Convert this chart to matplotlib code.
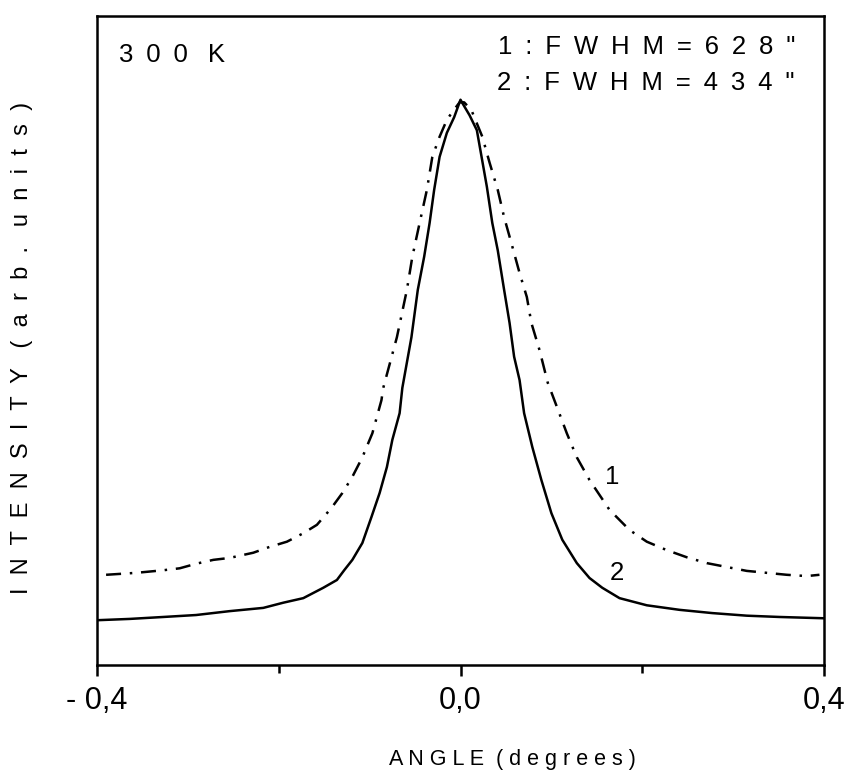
import matplotlib.pyplot as plt
from matplotlib.ticker import FixedLocator, FixedFormatter

# Kurve 1 (strichpunktiert), FWHM = 628"
angle1 = [-0.390, -0.357, -0.327, -0.309, -0.291, -0.272, -0.254, -0.228, -0.210, -0.191,
          -0.173, -0.158, -0.142, -0.130, -0.119, -0.108, -0.097, -0.087, -0.085, -0.070,
          -0.059, -0.053, -0.045, -0.037, -0.031, -0.023, -0.015, -0.009, -0.001, 0.004,
          0.012, 0.024, 0.032, 0.041, 0.048, 0.056, 0.065, 0.073, 0.078, 0.087,
          0.096, 0.106, 0.117, 0.128, 0.142, 0.164, 0.186, 0.205, 0.227, 0.249,
          0.271, 0.293, 0.315, 0.337, 0.359, 0.381, 0.395]
inten1 = [0.139, 0.142, 0.146, 0.149, 0.156, 0.162, 0.165, 0.173, 0.182, 0.190,
          0.203, 0.216, 0.242, 0.265, 0.290, 0.320, 0.357, 0.408, 0.427, 0.505,
          0.578, 0.629, 0.681, 0.732, 0.783, 0.814, 0.840, 0.852, 0.867, 0.867,
          0.855, 0.814, 0.774, 0.732, 0.690, 0.650, 0.604, 0.567, 0.527, 0.485,
          0.435, 0.398, 0.357, 0.320, 0.285, 0.239, 0.208, 0.190, 0.177, 0.166,
          0.157, 0.151, 0.145, 0.142, 0.139, 0.137, 0.139]

# Kurve 2 (durchgezogen), FWHM = 434"
angle2 = [-0.400, -0.364, -0.327, -0.291, -0.254, -0.217, -0.195, -0.173, -0.151, -0.136,
          -0.128, -0.119, -0.108, -0.098, -0.089, -0.081, -0.075, -0.067, -0.064, -0.054,
          -0.047, -0.040, -0.034, -0.029, -0.023, -0.015, -0.007, 0.000, 0.002, 0.010,
          0.018, 0.029, 0.035, 0.041, 0.048, 0.054, 0.059, 0.065, 0.070, 0.079,
          0.089, 0.100, 0.112, 0.128, 0.142, 0.156, 0.175, 0.205, 0.241, 0.277,
          0.315, 0.351, 0.400]
inten2 = [0.069, 0.071, 0.074, 0.077, 0.083, 0.088, 0.096, 0.103, 0.119, 0.131,
          0.146, 0.162, 0.188, 0.228, 0.265, 0.305, 0.347, 0.388, 0.427, 0.505,
          0.578, 0.629, 0.681, 0.732, 0.783, 0.820, 0.844, 0.871, 0.866, 0.847,
          0.824, 0.737, 0.681, 0.639, 0.578, 0.527, 0.475, 0.439, 0.388, 0.336,
          0.285, 0.234, 0.193, 0.157, 0.134, 0.119, 0.103, 0.092, 0.085, 0.080,
          0.076, 0.074, 0.072]

xticks = [-0.4, 0.0, 0.4]
xticklabels = ["- 0,4", "0,0", "0,4"]
xminor = [-0.2, 0.2]

fig = plt.figure(figsize=(8.47, 7.73), dpi=100)
ax = fig.add_axes([97/847, 108/773, 727/847, 649/773])

ax.plot(angle1, inten1, color="black", lw=1.8, linestyle=(0, (6, 3.5, 1, 3.5)))
ax.plot(angle2, inten2, color="black", lw=1.8)

ax.set_xlim(-0.4, 0.4)
ax.set_ylim(0, 1)

for s in ax.spines.values():
    s.set_linewidth(1.8)

ax.xaxis.set_major_locator(FixedLocator(xticks))
ax.xaxis.set_major_formatter(FixedFormatter(xticklabels))
ax.xaxis.set_minor_locator(FixedLocator(xminor))
ax.tick_params(axis="x", which="major", length=8, width=1.8, direction="out", pad=7,
               labelsize=22)
ax.tick_params(axis="x", which="minor", length=6, width=1.8, direction="out")
ax.set_yticks([])
for lab in ax.get_xticklabels():
    lab.set_family(["Liberation Sans Narrow", "Liberation Sans"])

fam = ["Liberation Sans", "DejaVu Sans"]
txt = dict(family=fam, fontsize=18.5, color="black")
sp = "\u2002"

ax.set_xlabel("A N G L E  ( d e g r e e s )", va="center", family=fam, fontsize=15.5)
ax.xaxis.set_label_coords(0.572, -0.146)
ax.set_ylabel("I  N  T  E  N  S  I  T  Y   (  a  r  b  .   u  n  i  t  s  )",
              va="center", family=fam, fontsize=17)
ax.yaxis.set_label_coords(-0.103, 0.488)

ax.text(0.030, 0.940, sp.join("300") + sp + " K", transform=ax.transAxes,
        ha="left", va="center", **txt)
ax.text(0.960, 0.952, sp.join('1:FWHM=628"'), transform=ax.transAxes,
        ha="right", va="center", **txt)
ax.text(0.960, 0.897, sp.join('2:FWHM=434"'), transform=ax.transAxes,
        ha="right", va="center", **txt)

ax.text(0.167, 0.290, "1", ha="center", va="center", **txt)
ax.text(0.172, 0.142, "2", ha="center", va="center", **txt)

fig.savefig("out.png", dpi=100)
